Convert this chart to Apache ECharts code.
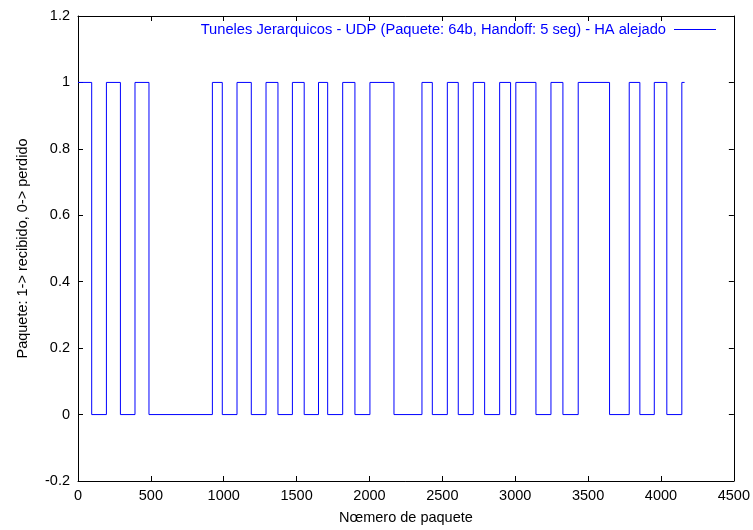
<!DOCTYPE html>
<html>
<head>
<meta charset="utf-8">
<script src="https://cdn.jsdelivr.net/npm/echarts@6/dist/echarts.min.js"></script>
<style>
    html, body { margin: 0; padding: 0; background: #fff; }
    #container { width: 753px; height: 530px; }
</style>
</head>
<body>
<div id="container"></div>
<script>
// numero de paquete donde cambia el estado
var cambios = [0, 94, 195, 291, 391, 487, 922, 990, 1091, 1189, 1290, 1372, 1471, 1552, 1650,
    1713, 1816, 1900, 2003, 2168, 2360, 2431, 2534, 2609, 2712, 2790, 2893, 2968, 3004,
    3142, 3245, 3327, 3432, 3647, 3782, 3855, 3954, 4040, 4143, 4162];
// estado a partir de cada cambio (1 recibido, 0 perdido)
var estados = [1, 0, 1, 0, 1, 0, 1, 0, 1, 0, 1, 0, 1, 0, 1,
    0, 1, 0, 1, 0, 1, 0, 1, 0, 1, 0, 1, 0, 1,
    0, 1, 0, 1, 0, 1, 0, 1, 0, 1, 1];
var xTicks = [0, 500, 1000, 1500, 2000, 2500, 3000, 3500, 4000, 4500];
var yTicks = [-0.2, 0, 0.2, 0.4, 0.6, 0.8, 1, 1.2];
var nombreSerie = 'Tuneles Jerarquicos - UDP (Paquete: 64b, Handoff: 5 seg) - HA alejado';

var fuente = '"Liberation Sans", Arial, sans-serif';
var tam = 14.5;

function getData() {
    var datos = [];
    for (var i = 0; i < cambios.length; i++) {
        datos.push([cambios[i], estados[i]]);
    }
    return datos;
}

function getOption() {
    var ejeX = {
        type: 'value',
        min: xTicks[0],
        max: xTicks[xTicks.length - 1],
        interval: 500,
        axisLine: { show: true, onZero: false, lineStyle: { color: '#000', width: 1 } },
        axisTick: { show: true, inside: true, length: 5, lineStyle: { color: '#000' } },
        splitLine: { show: false }
    };
    var ejeY = {
        type: 'value',
        min: yTicks[0],
        max: yTicks[yTicks.length - 1],
        interval: 0.2,
        axisLine: { show: true, onZero: false, lineStyle: { color: '#000', width: 1 } },
        axisTick: { show: true, inside: true, length: 5, lineStyle: { color: '#000' } },
        splitLine: { show: false }
    };
    var option = {
        animation: false,
        backgroundColor: '#fff',
        textStyle: { fontFamily: fuente },
        grid: { left: 78, right: 19, top: 16, bottom: 46 },
        legend: {
            right: 37,
            top: 22,
            padding: 0,
            icon: 'rect',
            itemWidth: 42,
            itemHeight: 1,
            align: 'right',
            itemGap: 0,
            textStyle: { color: '#0000ff', fontSize: 14.7, fontFamily: fuente, padding: [0, 3, 0, 0] },
            data: [nombreSerie]
        },
        xAxis: [
            Object.assign({}, ejeX, {
                position: 'bottom',
                name: 'Nœmero de paquete',
                nameLocation: 'middle',
                nameGap: 29,
                nameTextStyle: { color: '#000', fontSize: tam, fontFamily: fuente },
                axisLabel: {
                    color: '#000', fontSize: tam, margin: 7, fontFamily: fuente,
                    formatter: function (v) {
                        return String(v);
                    }
                }
            }),
            Object.assign({}, ejeX, { position: 'top', axisLabel: { show: false } })
        ],
        yAxis: [
            Object.assign({}, ejeY, {
                position: 'left',
                name: 'Paquete: 1-> recibido, 0-> perdido',
                nameLocation: 'middle',
                nameGap: 48,
                nameTextStyle: { color: '#000', fontSize: tam, fontFamily: fuente },
                axisLabel: {
                    color: '#000', fontSize: tam, margin: 8, fontFamily: fuente,
                    formatter: function (v) {
                        return String(Math.round(v * 10) / 10);
                    }
                }
            }),
            Object.assign({}, ejeY, { position: 'right', axisLabel: { show: false } })
        ],
        series: [{
            name: nombreSerie,
            type: 'line',
            step: 'end',
            symbol: 'none',
            data: getData(),
            itemStyle: { color: '#0000ff' },
            lineStyle: { color: '#0000ff', width: 1 }
        }]
    };
    return option;
}

var container = echarts.init(document.getElementById('container'));
container.setOption(getOption());
</script>
</body>
</html>
